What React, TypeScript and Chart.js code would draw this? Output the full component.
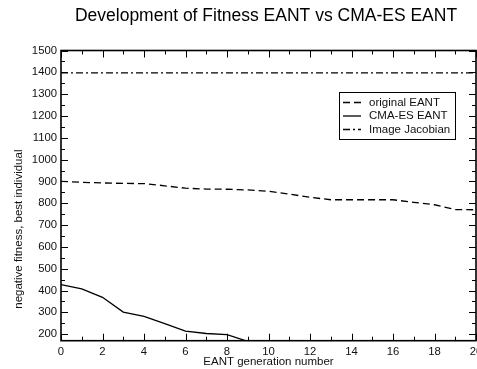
import React, { useEffect, useRef } from "react";
import { Chart, registerables } from "chart.js";

Chart.register(...registerables);

// ---- data ----
const generations = [0, 1, 2, 3, 4, 5, 6, 7, 8, 9, 10, 11, 12, 13, 14, 15, 16, 17, 18, 19, 20];
const originalEANT = [900, 896, 893, 891, 890, 880, 869, 865, 864, 861, 855, 842, 827, 816, 816, 816, 816, 804, 793, 771, 770];
const cmaesGenerations = [0, 1, 2, 3, 4, 5, 6, 7, 8, 9];
const cmaesEANT = [427, 407, 369, 301, 281, 248, 214, 203, 198, 167];
const imageJacobian = [1397, 1397, 1397, 1397, 1397, 1397, 1397, 1397, 1397, 1397, 1397, 1397, 1397, 1397, 1397, 1397, 1397, 1397, 1397, 1397, 1397];

const seriesLabels = ["original EANT", "CMA-ES EANT", "Image Jacobian"];
const xMajorTicks = [0, 2, 4, 6, 8, 10, 12, 14, 16, 18, 20];
const xMinorTicks = [1, 3, 5, 7, 9, 11, 13, 15, 17, 19];
const yMajorTicks = [200, 300, 400, 500, 600, 700, 800, 900, 1000, 1100, 1200, 1300, 1400, 1500];
const yMinorTicks = [250, 350, 450, 550, 650, 750, 850, 950, 1050, 1150, 1250, 1350, 1450];
const xRange = [0, 20];
const yRange = [170, 1500];

const chartTitle = "Development of Fitness EANT vs CMA-ES EANT";
const xTitle = "EANT generation number";
const yTitle = "negative fitness, best individual";

const FONT = "'Liberation Sans', Arial, Helvetica, sans-serif";
const CANVAS_W = 532;
const CANVAS_H = 369;

const dashes: number[][] = [[7, 4], [], [7, 3, 2, 3]];

const framePlugin = {
  id: "frameTicks",
  afterDatasetsDraw(chart: any) {
    const { ctx, chartArea: a, scales } = chart;
    const xs = scales.x;
    const ys = scales.y;
    ctx.save();
    ctx.strokeStyle = "#000";
    ctx.lineWidth = 1;
    ctx.setLineDash([]);
    const tick = (x1: number, y1: number, x2: number, y2: number) => {
      ctx.beginPath();
      ctx.moveTo(x1, y1);
      ctx.lineTo(x2, y2);
      ctx.stroke();
    };
    const MAJ = 7;
    const MIN = 4;
    xMajorTicks.forEach((v) => {
      const p = Math.round(xs.getPixelForValue(v)) + 0.5;
      tick(p, a.bottom, p, a.bottom - MAJ);
      tick(p, a.top, p, a.top + MAJ);
    });
    xMinorTicks.forEach((v) => {
      const p = Math.round(xs.getPixelForValue(v)) + 0.5;
      tick(p, a.bottom, p, a.bottom - MIN);
      tick(p, a.top, p, a.top + MIN);
    });
    yMajorTicks.forEach((v) => {
      const p = Math.round(ys.getPixelForValue(v)) + 0.5;
      tick(a.left, p, a.left + MAJ, p);
      tick(a.right, p, a.right - MAJ, p);
    });
    yMinorTicks.forEach((v) => {
      const p = Math.round(ys.getPixelForValue(v)) + 0.5;
      tick(a.left, p, a.left + MIN, p);
      tick(a.right, p, a.right - MIN, p);
    });
    ctx.lineWidth = 1.6;
    ctx.strokeRect(a.left, a.top, a.right - a.left, a.bottom - a.top);

    // legend box
    const bx = a.right - 137;
    const by = a.top + 41.5;
    const bw = 116;
    const bh = 47;
    ctx.fillStyle = "#fff";
    ctx.fillRect(bx, by, bw, bh);
    ctx.lineWidth = 1;
    ctx.strokeRect(Math.round(bx) + 0.5, Math.round(by) + 0.5, bw, bh);
    ctx.font = `11.5px ${FONT}`;
    ctx.textBaseline = "middle";
    ctx.textAlign = "left";
    chart.data.datasets.forEach((ds: any, i: number) => {
      const ry = by + 10.5 + i * 13.5;
      ctx.setLineDash(ds.borderDash || []);
      ctx.lineWidth = 1.3;
      ctx.strokeStyle = "#000";
      ctx.beginPath();
      ctx.moveTo(bx + 4, ry);
      ctx.lineTo(bx + 22, ry);
      ctx.stroke();
      ctx.setLineDash([]);
      ctx.fillStyle = "#111";
      ctx.fillText(ds.label, bx + 30, ry);
    });
    ctx.restore();
  },
};

export default function App() {
  const ref = useRef<HTMLCanvasElement | null>(null);
  useEffect(() => {
    if (!ref.current) return;
    const series = [
      generations.map((g, i) => ({ x: g, y: originalEANT[i] })),
      cmaesGenerations.map((g, i) => ({ x: g, y: cmaesEANT[i] })),
      generations.map((g, i) => ({ x: g, y: imageJacobian[i] })),
    ];
    const chart = new Chart(ref.current, {
      type: "line",
      data: {
        datasets: series.map((d, i) => ({
          label: seriesLabels[i],
          data: d,
          borderColor: "#000",
          borderWidth: 1.3,
          borderDash: dashes[i],
          pointRadius: 0,
          tension: 0,
          fill: false,
        })),
      },
      options: {
        animation: false,
        responsive: false,
        events: [],
        layout: { padding: 0 },
        plugins: {
          legend: { display: false },
          tooltip: { enabled: false },
          title: {
            display: true,
            text: chartTitle,
            color: "#000",
            font: { family: FONT, size: 17.5, weight: "normal" as any, lineHeight: 1.2 },
            padding: { top: 5.5, bottom: 24 },
            fullSize: true,
          },
        },
        scales: {
          x: {
            type: "linear",
            position: "bottom",
            min: xRange[0],
            max: xRange[1],
            afterBuildTicks: (s: any) => {
              s.ticks = xMajorTicks.map((v) => ({ value: v }));
            },
            afterFit: (s: any) => {
              s.height = CANVAS_H - 340.7;
            },
            grid: { display: false, drawTicks: false, tickLength: 0 },
            border: { display: false },
            ticks: {
              color: "#111",
              padding: 4,
              maxRotation: 0,
              autoSkip: false,
              font: { family: FONT, size: 11.3 },
              callback: (v: any) => String(v),
            },
            title: {
              display: true,
              text: xTitle,
              color: "#111",
              font: { family: FONT, size: 11.5, lineHeight: 1.2 },
              padding: { top: 0, bottom: 0 },
            },
          },
          y: {
            type: "linear",
            position: "left",
            min: yRange[0],
            max: yRange[1],
            afterBuildTicks: (s: any) => {
              s.ticks = yMajorTicks.map((v) => ({ value: v }));
            },
            afterFit: (s: any) => {
              s.width = 61;
            },
            grid: { display: false, drawTicks: false, tickLength: 0 },
            border: { display: false },
            ticks: {
              color: "#111",
              padding: 4,
              autoSkip: false,
              font: { family: FONT, size: 11.3 },
              callback: (v: any) => String(v),
            },
            title: {
              display: true,
              text: "          " + yTitle,
              align: "start",
              color: "#111",
              font: { family: FONT, size: 11.5, lineHeight: 1.2 },
              padding: { top: 12, bottom: 0 },
            },
          },
          y2: {
            type: "linear",
            position: "right",
            min: yRange[0],
            max: yRange[1],
            afterFit: (s: any) => {
              s.width = CANVAS_W - 476;
            },
            grid: { display: false, drawTicks: false },
            border: { display: false },
            ticks: { display: false },
          },
        },
      } as any,
      plugins: [framePlugin],
    });
    return () => chart.destroy();
  }, []);

  return (
    <div style={{ position: "fixed", left: 0, top: 0, width: CANVAS_W, height: CANVAS_H, background: "#fff" }}>
      <canvas ref={ref} width={CANVAS_W} height={CANVAS_H} style={{ display: "block" }} />
    </div>
  );
}
